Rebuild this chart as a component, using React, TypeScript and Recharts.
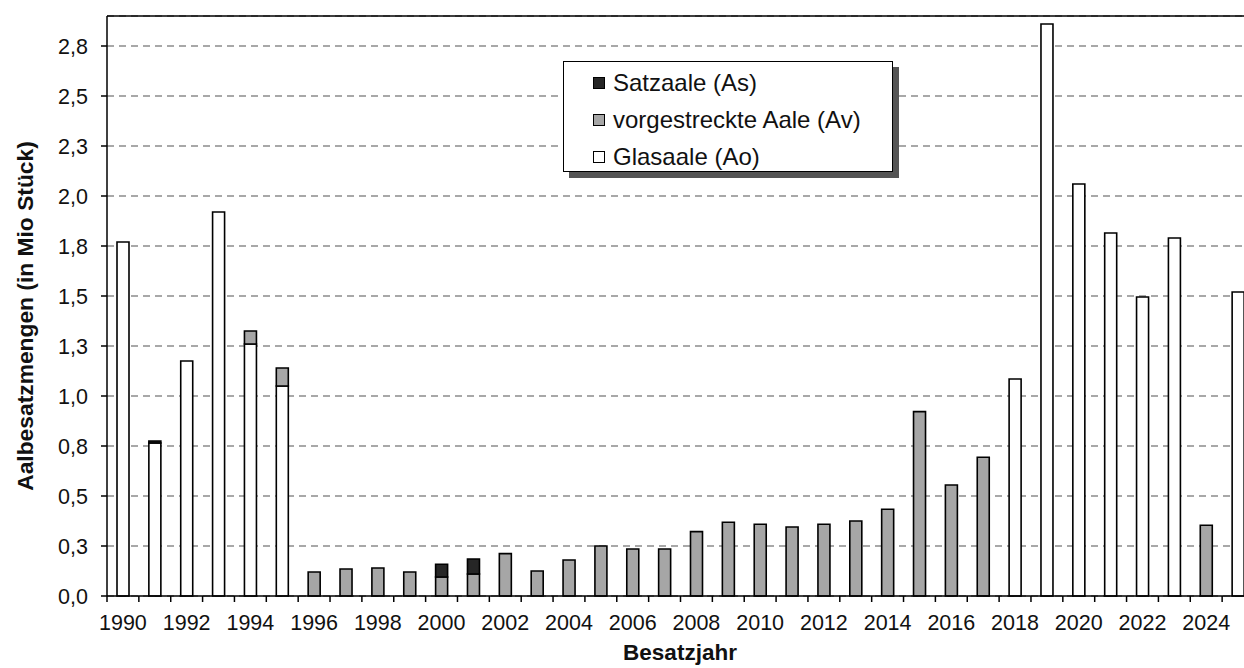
import { BarChart, Bar, XAxis, YAxis, CartesianGrid, Legend, ReferenceLine, Label } from "recharts";

const years = [
  "1990", "1991", "1992", "1993", "1994", "1995", "1996", "1997", "1998", "1999",
  "2000", "2001", "2002", "2003", "2004", "2005", "2006", "2007", "2008", "2009",
  "2010", "2011", "2012", "2013", "2014", "2015", "2016", "2017", "2018", "2019",
  "2020", "2021", "2022", "2023", "2024", "2025",
];

// Glasaale (Ao), Mio Stück
const glasaale = [
  1.77, 0.765, 1.175, 1.92, 1.26, 1.05, 0, 0, 0, 0,
  0, 0, 0, 0, 0, 0, 0, 0, 0, 0,
  0, 0, 0, 0, 0, 0, 0, 0, 1.085, 2.86,
  2.06, 1.815, 1.495, 1.79, 0, 1.52,
];

// vorgestreckte Aale (Av)
const vorgestreckt = [
  0, 0, 0, 0, 0.065, 0.09, 0.12, 0.135, 0.14, 0.12,
  0.095, 0.11, 0.212, 0.125, 0.18, 0.25, 0.235, 0.235, 0.322, 0.369,
  0.359, 0.345, 0.359, 0.375, 0.434, 0.922, 0.555, 0.694, 0, 0,
  0, 0, 0, 0, 0.354, 0,
];

// Satzaale (As)
const satzaale = [
  0, 0.01, 0, 0, 0, 0, 0, 0, 0, 0,
  0.064, 0.075, 0, 0, 0, 0, 0, 0, 0, 0,
  0, 0, 0, 0, 0, 0, 0, 0, 0, 0,
  0, 0, 0, 0, 0, 0,
];

const yTicks = [0, 0.25, 0.5, 0.75, 1, 1.25, 1.5, 1.75, 2, 2.25, 2.5, 2.75];

// stacking order bottom -> top; legend shows it top -> bottom
const series = [
  { key: "ao", name: "Glasaale (Ao)", fill: "#ffffff" },
  { key: "av", name: "vorgestreckte Aale (Av)", fill: "#a6a6a6" },
  { key: "as", name: "Satzaale (As)", fill: "#262626" },
];

const data = years.map((year, i) => ({
  year,
  ao: glasaale[i],
  av: vorgestreckt[i],
  as: satzaale[i],
}));

const FONT = '"Liberation Sans", Arial, sans-serif';
const W = 1254;
const H = 668;
const Y_AXIS_W = 107;
const BAND = (W - Y_AXIS_W) / years.length;

function YearTick(props: any) {
  const { x, y, payload } = props;
  const left = x - BAND / 2;
  const showLabel = Number(payload.value) % 2 === 0;
  return (
    <g>
      <line x1={left} x2={left} y1={y} y2={y + 6} stroke="#000" strokeWidth={1.5} />
      {showLabel && (
        <text x={x} y={y + 34} textAnchor="middle" fontSize={21.5} fill="#111">
          {payload.value}
        </text>
      )}
    </g>
  );
}

function LegendBox() {
  const items = series.slice().reverse();
  return (
    <div
      style={{
        width: 330,
        height: 111,
        boxSizing: "border-box",
        border: "1.5px solid #000",
        background: "#fff",
        boxShadow: "6px 6px 0 #555",
        paddingTop: 2,
        fontFamily: FONT,
        fontSize: 24,
        color: "#111",
      }}
    >
      {items.map((s) => (
        <div key={s.key} style={{ display: "flex", alignItems: "center", height: 37, paddingLeft: 29 }}>
          <span
            style={{
              width: 12,
              height: 12,
              boxSizing: "border-box",
              border: "1px solid #000",
              background: s.fill,
              marginRight: 8,
            }}
          />
          <span>{s.name}</span>
        </div>
      ))}
    </div>
  );
}

export default function App() {
  return (
    <div
      style={{
        position: "absolute",
        left: 0,
        top: 0,
        width: 1244,
        height: 668,
        overflow: "hidden",
        background: "#fff",
        fontFamily: FONT,
      }}
    >
      <BarChart width={W} height={H} data={data} margin={{ top: 16, right: 0, bottom: 0, left: 0 }}>
        <CartesianGrid vertical={false} stroke="#8c8c8c" strokeWidth={1.3} strokeDasharray="7 5" />
        <XAxis
          dataKey="year"
          height={72}
          interval={0}
          tickLine={false}
          tickSize={0}
          tickMargin={0}
          tick={<YearTick />}
          axisLine={{ stroke: "#000", strokeWidth: 1.5 }}
        >
          <Label
            content={() => (
              <text x={680} y={660} textAnchor="middle" fontSize={22.5} fontWeight="bold" fill="#111">
                Besatzjahr
              </text>
            )}
          />
        </XAxis>
        <YAxis
          width={Y_AXIS_W}
          domain={[0, 2.9]}
          ticks={yTicks}
          tickFormatter={(v: number) => v.toFixed(1).replace(".", ",")}
          tick={{ fontSize: 21.5, fill: "#111" }}
          tickSize={6}
          tickMargin={13}
          tickLine={{ stroke: "#000", strokeWidth: 1.5 }}
          axisLine={{ stroke: "#000", strokeWidth: 1.5 }}
        >
          <Label
            content={() => (
              <text
                x={33}
                y={316}
                transform="rotate(-90, 33, 316)"
                textAnchor="middle"
                fontSize={22.8}
                fontWeight="bold"
                fill="#111"
              >
                Aalbesatzmengen (in Mio Stück)
              </text>
            )}
          />
        </YAxis>
        <ReferenceLine y={2.9} stroke="#000" strokeWidth={1.5} />
        {series.map((s) => (
          <Bar
            key={s.key}
            dataKey={s.key}
            name={s.name}
            stackId="a"
            fill={s.fill}
            stroke="#000"
            strokeWidth={1.6}
            barSize={12}
            isAnimationActive={false}
          />
        ))}
        <Legend
          layout="vertical"
          align="center"
          verticalAlign="middle"
          content={<LegendBox />}
          wrapperStyle={{ position: "absolute", left: 563, top: 61, width: "auto", height: "auto" }}
        />
      </BarChart>
    </div>
  );
}
